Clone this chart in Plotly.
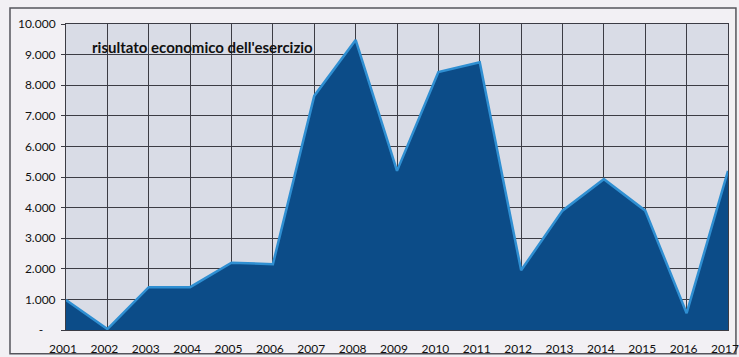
import plotly.graph_objects as go

years = list(range(2001, 2018))
values = [980, 30, 1400, 1400, 2200, 2150, 7650, 9480, 5200, 8430, 8750, 1950, 3900, 4930, 3900, 550, 5200]
ytick_vals = [0, 1000, 2000, 3000, 4000, 5000, 6000, 7000, 8000, 9000, 10000]
ytick_text = ["-\u00a0\u00a0\u00a0\u00a0", "1.000", "2.000", "3.000", "4.000", "5.000", "6.000", "7.000", "8.000", "9.000", "10.000"]
title_text = "risultato economico dell'esercizio"

fig = go.Figure()
fig.add_trace(go.Scatter(
    x=years, y=values, mode="lines", fill="tozeroy",
    line=dict(color="#2f8fd2", width=2.5),
    fillcolor="#0c4c88",
    hoverinfo="skip",
))

fig.update_layout(
    width=739, height=357,
    margin=dict(l=66, r=11, t=24, b=27, autoexpand=False),
    paper_bgcolor="#f2f0f4",
    plot_bgcolor="#d9dce6",
    showlegend=False,
    font=dict(family="Lato, Open Sans, sans-serif", size=12, color="#111111"),
    xaxis=dict(
        range=[2001, 2017], tickvals=years, ticktext=[str(y) for y in years],
        showgrid=True, gridcolor="#3c3c44", gridwidth=1, zeroline=False,
        ticks="", showline=True, linecolor="#3c3c44", mirror=True,
        tickfont=dict(size=12, color="#111111"),
        ticklabeloverflow="allow", ticklabelstandoff=8, ticklabelshift=-3,
        automargin=False,
    ),
    yaxis=dict(
        range=[0, 10000], tickvals=ytick_vals, ticktext=ytick_text,
        showgrid=True, gridcolor="#3c3c44", gridwidth=1, zeroline=False,
        ticks="outside", ticklen=4, tickcolor="#3c3c44",
        showline=True, linecolor="#3c3c44", mirror=True,
        tickfont=dict(size=12, color="#111111"),
        ticklabelstandoff=3, automargin=False,
    ),
    shapes=[dict(
        type="rect", xref="paper", yref="paper",
        x0=-0.0846, x1=1.012, y0=-0.078, y1=1.052,
        line=dict(color="#55555c", width=1.5), fillcolor="rgba(0,0,0,0)",
        layer="below",
    )],
    annotations=[dict(
        text="<b>" + title_text + "</b>", xref="paper", yref="paper",
        x=0.036, y=0.925, xanchor="left", yanchor="middle", showarrow=False,
        font=dict(family="Lato, Open Sans, sans-serif", size=15, color="#111111"),
    )],
)

fig.write_html(
    "out.html",
    config={"displayModeBar": False},
    post_script="document.body.style.margin='0px';document.body.style.overflow='hidden';",
)
